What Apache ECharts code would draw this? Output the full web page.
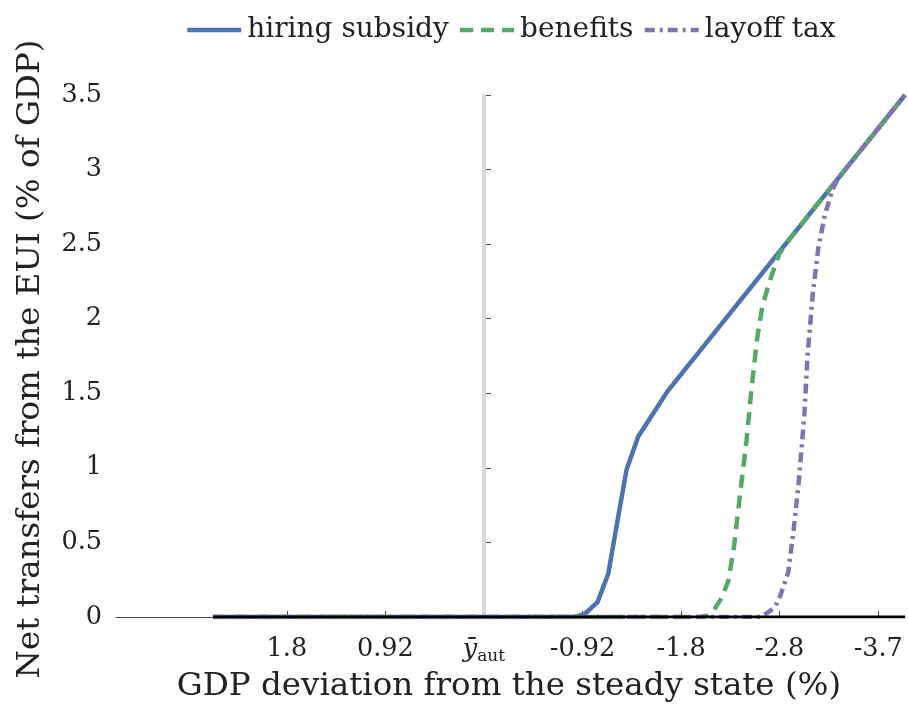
<!DOCTYPE html>
<html>
<head>
<meta charset="utf-8">
<script src="https://cdn.jsdelivr.net/npm/echarts@6/dist/echarts.min.js"></script>
<style>
  html, body { margin: 0; padding: 0; background: #fff; }
  #chart { width: 908px; height: 710px; }
</style>
</head>
<body>
<div id="chart"></div>
<script>
// GDP deviation from steady state (%), plotted with larger recessions to the right
const tickValues = [1.84, 0.92, 0, -0.92, -1.84, -2.76, -3.68];
const tickLabels = ['1.8', '0.92', 'ȳ_aut', '-0.92', '-1.8', '-2.8', '-3.7'];
const xAxisMin = -3.93;
const xAxisMax = 3.435;

// Net transfers from the EUI (% of GDP) under each instrument
const hiringX = [2.53, -0.85, -0.94, -1.06, -1.16, -1.24, -1.33, -1.44, -1.57, -1.72, -3.93];
const hiringY = [0, 0, 0.02, 0.10, 0.29, 0.62, 0.985, 1.21, 1.354, 1.52, 3.5];

const benefitsX = [2.53, -2.02, -2.09, -2.15, -2.22, -2.28, -2.33, -2.39, -2.45, -2.50, -2.55, -2.60, -2.68, -2.76, -2.86, -3.93];
const benefitsY = [0, 0, 0.01, 0.05, 0.13, 0.24, 0.45, 0.82, 1.18, 1.55, 1.87, 2.09, 2.28, 2.44, 2.541, 3.5];

const layoffX = [2.53, -2.58, -2.65, -2.72, -2.77, -2.84, -2.89, -2.94, -2.99, -3.02, -3.07, -3.12, -3.18, -3.25, -3.30, -3.93];
const layoffY = [0, 0, 0.03, 0.07, 0.15, 0.30, 0.58, 0.92, 1.35, 1.75, 2.17, 2.47, 2.69, 2.86, 2.936, 3.5];

const zeroX = [2.53, -3.93];
const zeroY = [0, 0];

// autarky output level marker
const autX = [0, 0];
const autY = [0, 3.5];

const zip = (xs, ys) => xs.map((x, i) => [x, ys[i]]);

const FONT = '"DejaVu Serif", "Liberation Serif", serif';
const TEXT = '#222222';
const AXIS = '#4a4a4a';

const chart = echarts.init(document.getElementById('chart'), null, { renderer: 'canvas' });

function xLabel(v) {
  let idx = 0, best = Infinity;
  tickValues.forEach((t, i) => { const d = Math.abs(t - v); if (d < best) { best = d; idx = i; } });
  const s = tickLabels[idx];
  if (s.indexOf('_') >= 0) {
    const parts = s.split('_');
    return '{m|' + parts[0] + '}{s|' + parts[1] + '}';
  }
  return s;
}

const option = {
  backgroundColor: '#ffffff',
  animation: false,
  grid: { left: 116, right: 3, top: 95, bottom: 93, containLabel: false },
  legend: {
    left: 180,
    top: 11,
    itemWidth: 54,
    itemHeight: 28,
    itemGap: 9,
    data: ['hiring subsidy', 'benefits', 'layoff tax'],
    itemStyle: { opacity: 0, borderWidth: 0 },
    lineStyle: { width: 4.5 },
    textStyle: { fontFamily: FONT, fontSize: 28, color: TEXT, padding: [0, 0, 0, 1] }
  },
  xAxis: {
    type: 'value',
    inverse: true,
    min: xAxisMin,
    max: xAxisMax,
    splitLine: { show: false },
    axisLine: { show: true, onZero: false, lineStyle: { color: AXIS, width: 1 } },
    axisTick: { show: true, inside: true, length: 6, customValues: tickValues, lineStyle: { color: AXIS, width: 1 } },
    axisLabel: {
      customValues: tickValues,
      margin: 19,
      fontFamily: FONT,
      fontSize: 25.5,
      color: TEXT,
      formatter: xLabel,
      rich: {
        m: { fontFamily: FONT, fontSize: 25.5, fontStyle: 'italic', color: TEXT },
        s: { fontFamily: FONT, fontSize: 17, color: TEXT, padding: [12, 0, 0, 0] }
      }
    }
  },
  yAxis: {
    type: 'value',
    min: 0,
    max: 3.5,
    interval: 0.5,
    splitLine: { show: false },
    axisLine: { show: true, lineStyle: { color: AXIS, width: 1 } },
    axisTick: { show: true, inside: true, length: 7, lineStyle: { color: AXIS, width: 1 } },
    axisLabel: {
      margin: 14,
      fontFamily: FONT,
      fontSize: 25.5,
      color: TEXT,
      formatter: v => String(+v.toFixed(1))
    }
  },
  graphic: [
    {
      type: 'text',
      x: 509,
      y: 687,
      style: {
        text: 'GDP deviation from the steady state (%)',
        font: '32.5px ' + FONT,
        fill: TEXT,
        textAlign: 'center',
        textVerticalAlign: 'middle'
      }
    },
    {
      type: 'text',
      x: 31,
      y: 359,
      rotation: Math.PI / 2,
      style: {
        text: 'Net transfers from the EUI (% of GDP)',
        font: '32.5px ' + FONT,
        fill: TEXT,
        textAlign: 'center',
        textVerticalAlign: 'middle'
      }
    }
  ],
  series: [
    {
      name: 'aut',
      type: 'line',
      data: zip(autX, autY),
      symbol: 'none',
      silent: true,
      z: 1,
      lineStyle: { color: '#d9d9d9', width: 4, cap: 'butt' }
    },
    {
      name: 'hiring subsidy',
      type: 'line',
      data: zip(hiringX, hiringY),
      symbol: 'none',
      z: 2,
      color: '#4c72b0',
      lineStyle: { color: '#4c72b0', width: 4.5, type: 'solid', join: 'round' }
    },
    {
      name: 'benefits',
      type: 'line',
      data: zip(benefitsX, benefitsY),
      symbol: 'none',
      z: 3,
      color: '#55a868',
      lineStyle: { color: '#55a868', width: 4.5, type: [13, 8], join: 'round' }
    },
    {
      name: 'layoff tax',
      type: 'line',
      data: zip(layoffX, layoffY),
      symbol: 'none',
      z: 4,
      color: '#8172b2',
      lineStyle: { color: '#8172b2', width: 4.5, type: [10, 5, 3, 5], join: 'round' }
    },
    {
      name: 'zero',
      type: 'line',
      data: zip(zeroX, zeroY),
      symbol: 'none',
      silent: true,
      z: 5,
      lineStyle: { color: '#000000', width: 3 }
    }
  ]
};

chart.setOption(option);
</script>
</body>
</html>
